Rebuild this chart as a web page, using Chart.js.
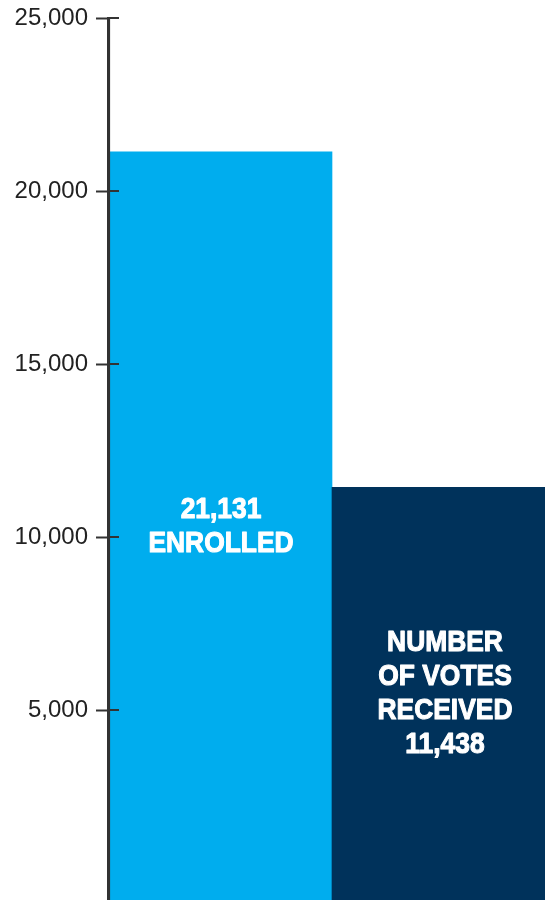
<!DOCTYPE html>
<html>
<head>
<meta charset="utf-8">
<script src="https://cdn.jsdelivr.net/npm/chart.js@4.4.0/dist/chart.umd.min.js"></script>
<style>
  html, body { margin: 0; padding: 0; background: #fff; overflow: hidden; }
  #wrap { width: 556px; height: 900px; }
</style>
</head>
<body>
<div id="wrap"><canvas id="chart1"></canvas></div>
<script>
// data
let categories = ["Enrolled", "Number of votes received"];
let values = [21131, 11438];
let barColors = ["#00adee", "#00325b"];
let barText = [
    ["21,131", "ENROLLED"],
    ["NUMBER", "OF VOTES", "RECEIVED", "11,438"]
];
let tickValues = [5000, 10000, 15000, 20000, 25000];
let yMin = -490;
let yMax = 25000;

let axisColor = "#333333";

// axis line and inner half of the ticks on top of the bars, then the bar labels
let barLabels = {
    id: "barLabels",
    afterDatasetsDraw(chart) {
        let ctx = chart.ctx;
        let y = chart.scales.y;
        let area = chart.chartArea;
        let ax = area.left + 1;
        ctx.save();
        ctx.strokeStyle = axisColor;
        ctx.lineWidth = 2.2;
        ctx.beginPath();
        ctx.moveTo(ax, area.top);
        ctx.lineTo(ax, area.bottom);
        ctx.stroke();
        ctx.lineWidth = 2;
        y.ticks.forEach(t => {
            let py = Math.round(y.getPixelForValue(t.value));
            ctx.beginPath();
            ctx.moveTo(ax, py);
            ctx.lineTo(ax + 10, py);
            ctx.stroke();
        });
        let meta = chart.getDatasetMeta(0);
        ctx.fillStyle = "#ffffff";
        ctx.strokeStyle = "#ffffff";
        ctx.lineWidth = 1.1;
        ctx.lineJoin = "round";
        ctx.font = "bold 30px 'Liberation Sans', Arial, sans-serif";
        ctx.textAlign = "center";
        ctx.textBaseline = "middle";
        let lineH = 34;
        meta.data.forEach((bar, i) => {
            let lines = barText[i];
            let cy = y.getPixelForValue(values[i] / 2) + 9;
            let y0 = cy - (lines.length - 1) * lineH / 2;
            lines.forEach((l, k) => {
                ctx.save();
                ctx.translate(bar.x + 1, y0 + k * lineH);
                ctx.scale(0.88, 1);
                ctx.fillText(l, 0, 0);
                ctx.strokeText(l, 0, 0);
                ctx.restore();
            });
        });
        ctx.restore();
    }
};

let ctx = document.getElementById("chart1").getContext("2d");
let chart1 = new Chart(ctx, {
    type: "bar",
    data: {
        labels: categories,
        datasets: [{
            data: values,
            base: yMin,
            backgroundColor: barColors,
            borderWidth: 0,
            categoryPercentage: 1,
            barPercentage: 1
        }]
    },
    options: {
        responsive: true,
        maintainAspectRatio: false,
        animation: false,
        layout: { padding: { top: 18, bottom: 0, left: 0, right: 0 } },
        plugins: { legend: { display: false }, tooltip: { enabled: false } },
        scales: {
            x: { display: false },
            y: {
                min: yMin,
                max: yMax,
                afterBuildTicks: (scale) => {
                    scale.ticks = tickValues.map(v => ({ value: v }));
                },
                afterFit: (scale) => {
                    scale.width = 108;
                    scale.paddingTop = 0;
                    scale.paddingBottom = 0;
                },
                border: { display: true, color: axisColor, width: 2 },
                grid: {
                    drawOnChartArea: false,
                    drawTicks: true,
                    tickLength: 12,
                    tickWidth: 2,
                    tickColor: axisColor
                },
                ticks: {
                    padding: 8,
                    color: "#222222",
                    font: { family: "'Liberation Sans', Arial, sans-serif", size: 24 },
                    callback: (v) => v.toLocaleString("en-US")
                }
            }
        }
    },
    plugins: [barLabels]
});
</script>
</body>
</html>
